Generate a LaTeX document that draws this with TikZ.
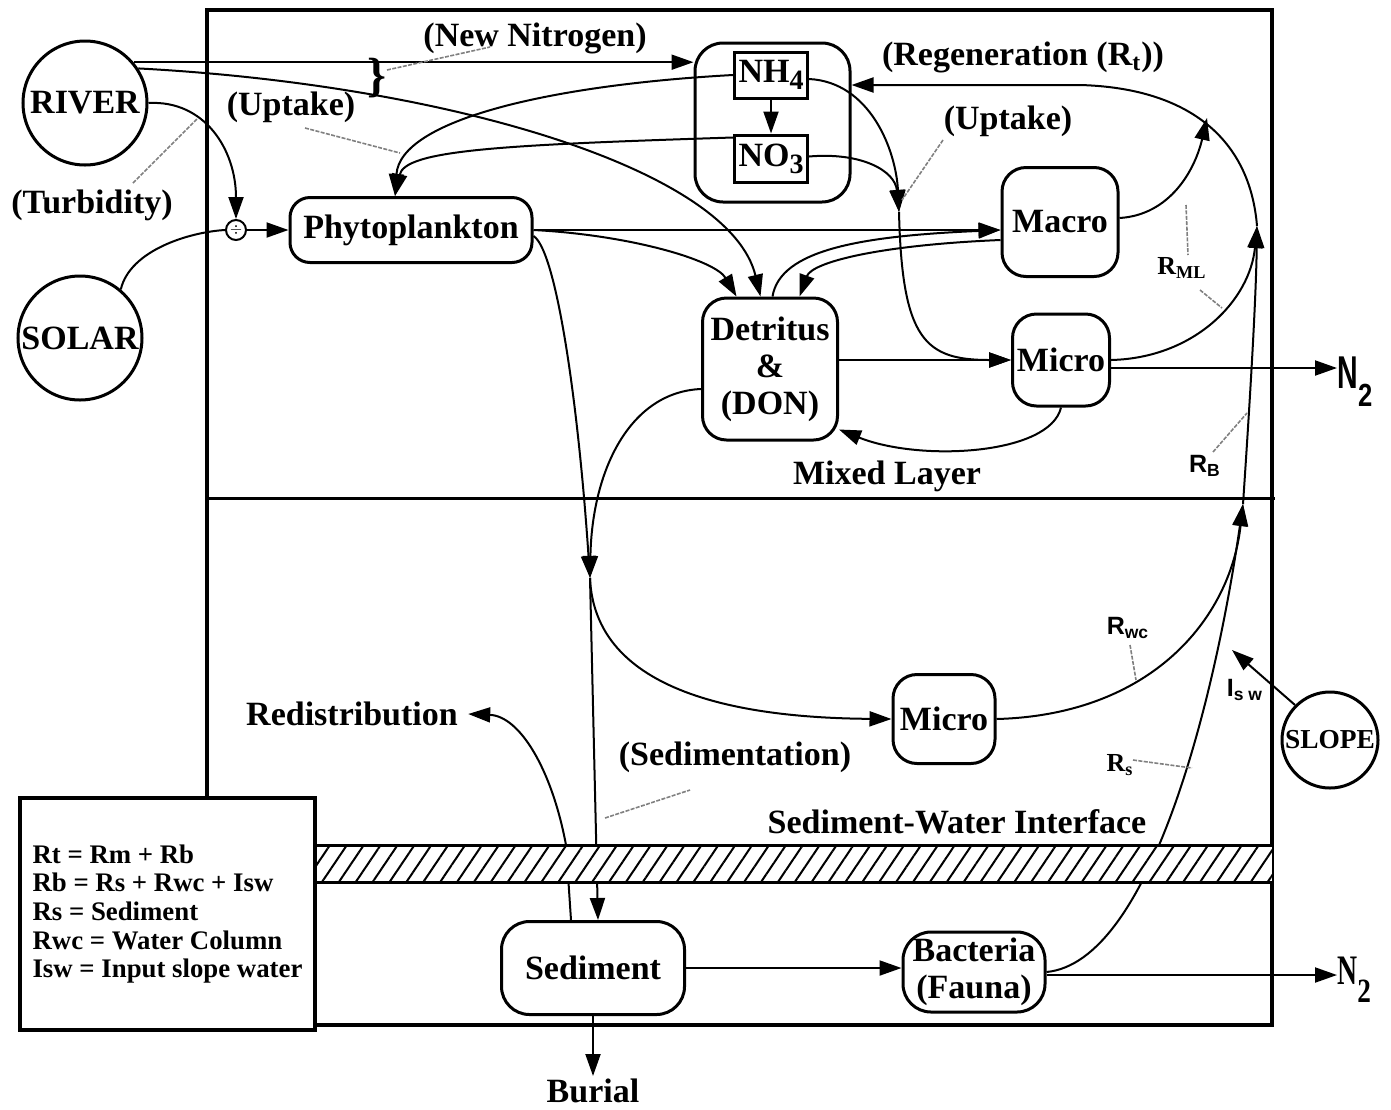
\documentclass[tikz,border=0pt]{standalone}
\usepackage{fontspec}
\setmainfont{Liberation Serif}
\newfontfamily\labsans{Liberation Sans}
\usetikzlibrary{arrows.meta, positioning, patterns.meta}
\newcommand{\lsub}[1]{\raisebox{-0.45ex}{\fontsize{14}{14}\selectfont #1}}

\begin{document}
\begin{tikzpicture}[
  x=0.5pt, y=-0.5pt,
  bigtxt/.style  = {font=\bfseries\fontsize{17}{18.5}\selectfont},
  box/.style     = {bigtxt, draw, line width=1.5pt, rounded corners=12pt,
                    align=center, inner sep=1pt},
  pool/.style    = {bigtxt, circle, draw, line width=1.5pt, minimum size=62pt,
                    inner sep=0pt},
  ion/.style     = {bigtxt, draw, line width=1.5pt, minimum width=36.5pt,
                    minimum height=23pt, inner sep=0pt},
  lbl/.style     = {bigtxt, inner sep=1pt},
  rsym/.style    = {font=\labsans\bfseries\fontsize{12.5}{12.5}\selectfont, inner sep=0pt},
  rser/.style    = {font=\bfseries\fontsize{13}{13}\selectfont, inner sep=0pt},
  arr/.style     = {-{Triangle[length=11pt, width=7.5pt]}, line width=1pt},
  link/.style    = {line width=1pt},
  lead/.style    = {draw=gray, line width=0.8pt, dash pattern=on 2pt off 0.7pt}
]
  \useasboundingbox (0,0) rectangle (1391,1109);

  %% Frame and mixed layer
  \draw[line width=2pt] (207,10) rectangle (1272,1025);
  \draw[line width=1.5pt] (207,498) -- (1275,498);

  %% Sources
  \node[pool] (river) at (85,103) {RIVER};
  \node[pool] (solar) at (80,338) {SOLAR};
  \node[pool, minimum size=48pt, font=\bfseries\fontsize{13.7}{14}\selectfont]
       (slope) at (1330,740) {SLOPE};
  \node[circle, draw, line width=1pt, minimum size=10pt, inner sep=0pt,
        font=\scriptsize] (light) at (236,230) {$\div$};

  %% Mixed layer pools
  \node[box, minimum width=121pt, minimum height=32.5pt, rounded corners=10pt]
       (phyto) at (411,230) {Phytoplankton};
  \node[box, minimum width=77.5pt, minimum height=79.5pt, rounded corners=14pt]
       (nbox) at (772.5,122.5) {};
  \node[ion] (nh4) at (771,75) {NH\lsub{4}};
  \node[ion, minimum height=23.5pt] (no3) at (771,158.5) {NO\lsub{3}};
  \node[box, minimum width=58pt, minimum height=54.5pt] (macro) at (1060,222) {Macro};
  \node[box, minimum width=67.5pt, minimum height=71pt] (detritus) at (770,369)
       {Detritus\\\&\\(DON)};
  \node[box, minimum width=48.5pt, minimum height=46pt] (microup) at (1061,360) {Micro};

  %% Water column and sediment pools
  \node[box, minimum width=51pt, minimum height=44.5pt] (microlow) at (944,719) {Micro};
  \node[box, minimum width=91.5pt, minimum height=46.5pt, rounded corners=14pt]
       (sediment) at (593,968) {Sediment};
  \node[box, minimum width=71pt, minimum height=40pt, rounded corners=14pt]
       (bacteria) at (974,972) {Bacteria\\(Fauna)};
  \node[lbl, below=30pt of sediment] (burial) {Burial};
  \node[lbl, inner xsep=5pt] (redis) at (352,714) {Redistribution};
  \node[anchor=west, inner sep=0pt, font=\labsans\bfseries\fontsize{23}{23}\selectfont]
       (n2top) at (1337,382) {\scalebox{0.62}[1]{N}\raisebox{-9pt}{\fontsize{16}{16}\selectfont\scalebox{0.8}[1]{2}}};
  \node[anchor=west, inner sep=0pt, font=\bfseries\fontsize{21}{21}\selectfont]
       (n2bot) at (1337,980) {\scalebox{0.66}[1]{N}\raisebox{-9pt}{\fontsize{17}{17}\selectfont\scalebox{0.8}[1]{2}}};

  \coordinate (upt)    at (899,212);
  \coordinate (rt)     at (1207,118);
  \coordinate (rml)    at (1257,226);
  \coordinate (rb)     at (1243,504);
  \coordinate (sd)     at (590,578);
  \coordinate (isw)    at (1232,650);
  \coordinate (regtop) at (1080,85);

  %% River and light inputs
  \draw[arr] (river.40) -- (river.40 -| nbox.west);
  \draw[arr] (river.33) .. controls (450,85) and (730,170) .. ([xshift=-4.75pt]detritus.north);
  \draw[arr] (river.east) .. controls (205,100) and (236,150) .. (light.north);
  \draw[link] (solar.50) .. controls (130,250) and (190,232) .. (light.west);
  \draw[arr] (light.east) -- (phyto.west);

  %% Uptake
  \draw[arr] (nh4.west) .. controls (550,85) and (400,120) .. ([xshift=-8pt]phyto.north);
  \draw[arr] ([yshift=-2pt]no3.north west) .. controls (500,145) and (405,150) .. ([xshift=-8pt]phyto.north);
  \draw[arr] (nh4.south) -- (no3.north);
  \draw[arr] ([yshift=-2pt]nh4.east) .. controls (870,82) and (896,150) .. (upt);
  \draw[arr] ([yshift=1pt]no3.east) .. controls (860,152) and (895,170) .. (upt);
  \draw[arr] (upt) .. controls (902,340) and (925,360) .. (microup.west);

  %% Grazing and detritus
  \draw[arr] (phyto.east) -- (phyto.east -| macro.west);
  \draw[arr] (phyto.east) .. controls (630,235) and (715,260) .. ([xshift=-16.75pt]detritus.north);
  \draw[arr] ([xshift=1.25pt]detritus.north) .. controls (780,250) and (860,236) .. (phyto.east -| macro.west);
  \draw[arr] ([yshift=-9pt]macro.west) .. controls (880,245) and (812,262) .. ([xshift=14.75pt]detritus.north);
  \draw[arr] (detritus.east |- microup.west) -- (microup.west);
  \draw[arr] (microup.south) .. controls (1050,455) and (920,462) .. ([yshift=6pt]detritus.south east);

  %% Regeneration
  \draw[arr] ([yshift=2pt]macro.east) .. controls (1170,215) and (1195,170) .. (rt);
  \draw[arr] (microup.east) .. controls (1195,358) and (1250,300) .. (rml);
  \draw[arr] (rml) .. controls (1250,140) and (1190,88) .. (regtop) -- (regtop -| nbox.east);
  \draw[arr] (rb) .. controls (1250,400) and (1256,300) .. (rml);
  \draw[arr] ([yshift=-4pt]microup.east) -- ([yshift=-4pt]microup.east -| n2top.west);
  \draw[arr] (bacteria.east) .. controls (1150,962) and (1215,700) .. (rb);
  \draw[arr] (microlow.east) .. controls (1150,715) and (1230,620) .. (rb);
  \draw[arr] (slope.135) -- (isw);
  \draw[arr] ([yshift=-1.5pt]bacteria.east) -- ([yshift=-1.5pt]bacteria.east -| n2bot.west);

  %% Sedimentation
  \draw[arr] ([yshift=-3pt]phyto.east) .. controls (556,250) and (578,400) .. (sd);
  \draw[arr] ([yshift=-10pt]detritus.west) .. controls (630,392) and (592,470) .. (sd);
  \draw[arr] (sd) -- ([xshift=2.5pt]sediment.north);
  \draw[arr] (sd) .. controls (595,700) and (760,718) .. (microlow.west);
  \draw[arr] ([xshift=-11pt]sediment.north) -- (566,845) .. controls (552,770) and (520,716) .. (redis.east);
  \draw[arr] (sediment.east) -- (sediment.east -| bacteria.west);
  \draw[arr] (sediment.south) -- (burial);

  %% Sediment-water interface
  \fill[white] (315,845) rectangle (1272,882);
  \fill[pattern={Lines[angle=56, distance=7pt, line width=1pt]}] (315,845) rectangle (1272,882);
  \draw[line width=1.5pt] (315,845) -- (1272,845) (315,882) -- (1272,882);

  %% Legend
  \node[draw, fill=white, line width=2pt, minimum width=147.5pt, minimum height=116pt,
        align=left, font=\bfseries\fontsize{13.4}{14.3}\selectfont] (legend) at (167.5,914)
       {Rt = Rm + Rb\\Rb = Rs + Rwc + Isw\\Rs = Sediment\\Rwc = Water Column\\Isw = Input slope water};

  %% Labels
  \node[lbl] (newn)  at (535,38)   {(New Nitrogen)};
  \node[lbl] (regen) at (1023,57)  {(Regeneration (R\textsubscript{t}))};
  \node[lbl] (uptl)  at (291,107)  {(Uptake)};
  \node[lbl] (uptr)  at (1008,121) {(Uptake)};
  \node[lbl] (turb)  at (92,205)   {(Turbidity)};
  \node[lbl] (mixed) at (887,476)  {Mixed Layer};
  \node[lbl] (swi)   at (957,822)  {Sediment-Water Interface};
  \node[lbl] (sedim) at (735,757)  {(Sedimentation)};
  \node[lbl, font=\bfseries\fontsize{24}{24}\selectfont] (brace) at (377,78) {\}};
  \node[rser] (rmllbl) at (1182,268) {R\textsubscript{ML}};
  \node[rsym] (rblbl)  at (1205,466) {R\textsubscript{B}};
  \node[rsym] (rwclbl) at (1128,628) {R\textsubscript{wc}};
  \node[rsym] (iswlbl) at (1245,690) {I\textsubscript{s w}};
  \node[rser] (rslbl)  at (1120,765) {R\textsubscript{s}};

  %% Leaders
  \draw[lead] (133,183) -- (198,118);
  \draw[lead] (305,128) -- (400,153);
  \draw[lead] (387,70) -- (490,47);
  \draw[lead] (943,140) -- (902,200);
  \draw[lead] (1186,205) -- (1188,255);
  \draw[lead] (1200,290) -- (1222,308);
  \draw[lead] (1213,452) -- (1247,413);
  \draw[lead] (1130,645) -- (1136,680);
  \draw[lead] (1133,760) -- (1192,768);
  \draw[lead] (605,818) -- (690,790);
\end{tikzpicture}
\end{document}
